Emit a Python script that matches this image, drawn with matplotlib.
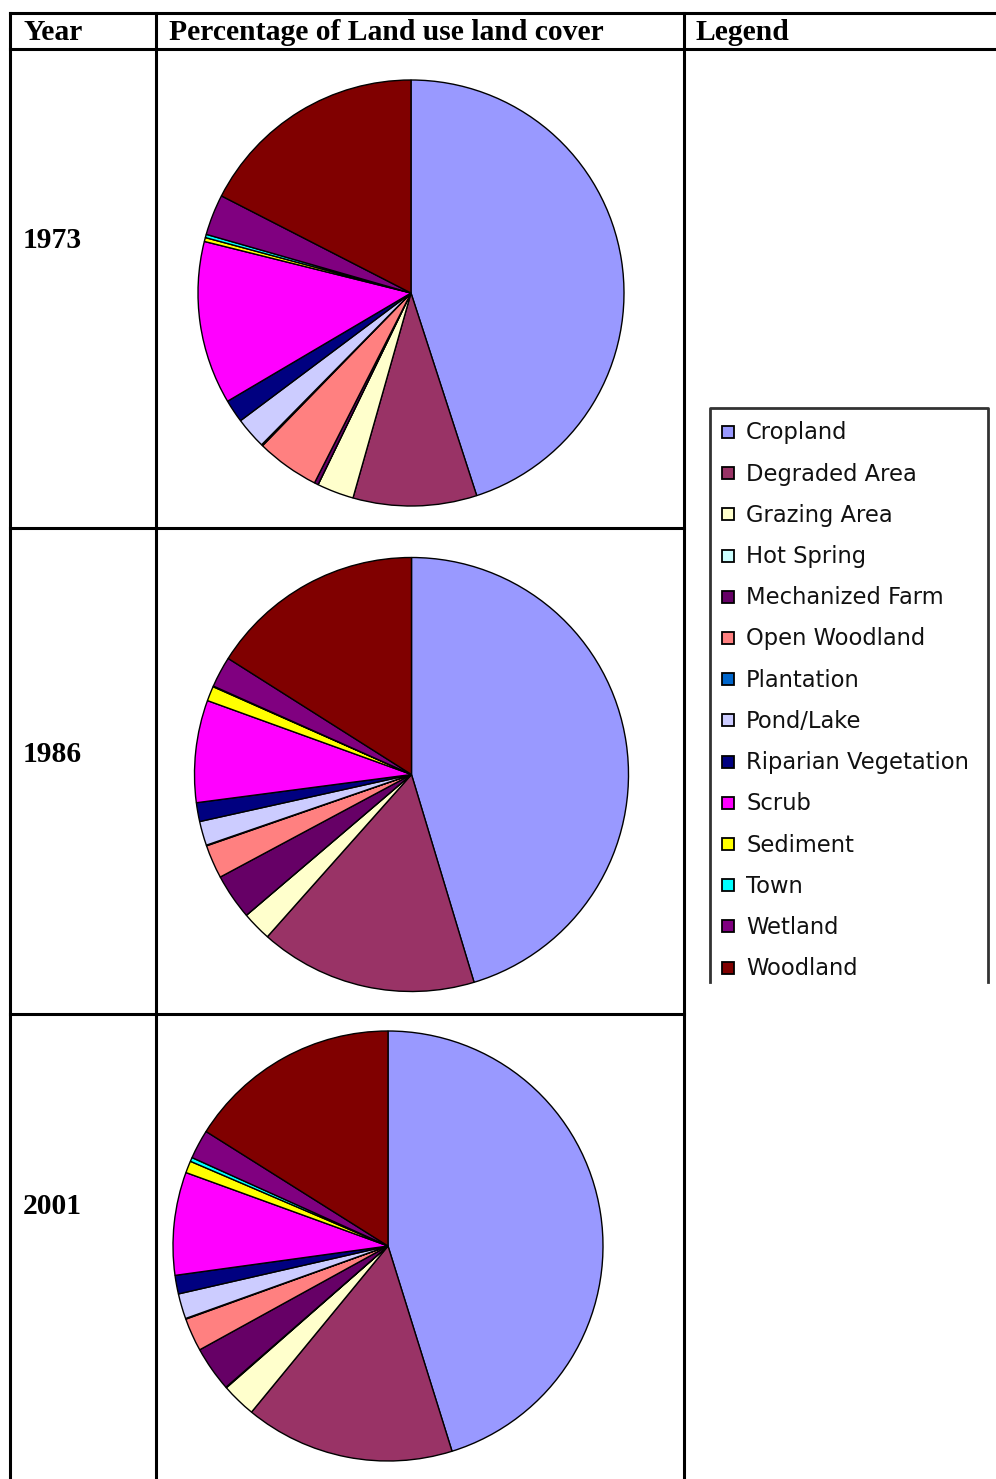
import matplotlib
matplotlib.use("Agg")
import matplotlib.pyplot as plt
from matplotlib.patches import Rectangle

# Land use / land cover classes (legend order)
categories = ["Cropland", "Degraded Area", "Grazing Area", "Hot Spring",
              "Mechanized Farm", "Open Woodland", "Plantation", "Pond/Lake",
              "Riparian Vegetation", "Scrub", "Sediment", "Town", "Wetland",
              "Woodland"]
colors = ["#9999FF", "#993366", "#FFFFCC", "#CCFFFF", "#660066", "#FF8080",
          "#0066CC", "#CCCCFF", "#000080", "#FF00FF", "#FFFF00", "#00FFFF",
          "#800080", "#800000"]

years = ["1973", "1986", "2001"]
# percentages
pct_1973 = [45.1, 9.4, 2.8, 0.0, 0.3, 4.8, 0.1, 2.4, 1.75, 12.4, 0.3, 0.25, 3.1, 17.5]
pct_1986 = [45.3, 16.2, 2.2, 0.0, 3.4, 2.5, 0.05, 1.8, 1.4, 7.6, 1.1, 0.05, 2.3, 16.0]
pct_2001 = [45.3, 15.8, 2.6, 0.05, 3.4, 2.5, 0.05, 1.9, 1.4, 7.75, 0.9, 0.3, 2.2, 16.1]

W, H = 996, 1479
fig = plt.figure(figsize=(W / 100, H / 100), dpi=100)
ax0 = fig.add_axes([0, 0, 1, 1])
ax0.set_xlim(0, W)
ax0.set_ylim(H, 0)
ax0.axis("off")

# table grid
lw = 2.2
ax0.plot([10, W], [13, 13], color="black", lw=lw)
ax0.plot([10, W], [49, 49], color="black", lw=lw)
ax0.plot([10, 684], [528, 528], color="black", lw=lw)
ax0.plot([10, 684], [1014, 1014], color="black", lw=lw)
for x in [10, 156, 684]:
    ax0.plot([x, x], [13, H], color="black", lw=lw)

hfont = dict(family="Liberation Serif", weight="bold", fontsize=21.3, va="center")
ax0.text(24, 33, "Year", **hfont)
ax0.text(169, 33, "Percentage of Land use land cover", **hfont)
ax0.text(696, 33, "Legend", **hfont)

year_y = [241, 755, 1207]
for yr, yy in zip(years, year_y):
    ax0.text(23, yy, yr, **hfont)

# pies: centre x, centre y, radius in pixels
pie_pos = [(411, 293, 213), (411.5, 774.5, 217), (388, 1246, 215)]
for vals, (cx, cy, r) in zip([pct_1973, pct_1986, pct_2001], pie_pos):
    ax = fig.add_axes([(cx - r - 2) / W, 1 - (cy + r + 2) / H,
                       (2 * r + 4) / W, (2 * r + 4) / H])
    ax.pie(vals, colors=colors, startangle=90, counterclock=False, radius=1,
           wedgeprops=dict(edgecolor="black", linewidth=1.0))
    k = (r + 2) / r
    ax.set_xlim(-k, k)
    ax.set_ylim(-k, k)
    ax.set_aspect("equal")
    ax.axis("off")

# legend box (bottom is cut off in the source)
ax0.plot([710, 710, 988, 988], [982, 408, 408, 982], color="#333333", lw=2)
y0, step = 432, 41.2
for i, (name, c) in enumerate(zip(categories, colors)):
    y = y0 + i * step
    ax0.add_patch(Rectangle((722, y - 6), 12, 12, facecolor=c,
                            edgecolor="black", lw=1.3))
    ax0.text(746, y + 1, name, family="DejaVu Sans", fontsize=16.3,
             va="center", color="#111111")

fig.savefig("out.png", dpi=100)
